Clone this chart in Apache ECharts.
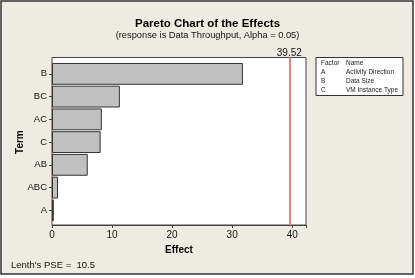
<!DOCTYPE html>
<html><head><meta charset="utf-8">
<script src="https://cdn.jsdelivr.net/npm/echarts@6/dist/echarts.min.js"></script>
<style>html,body{margin:0;padding:0;background:#ffffff;}#c{width:415px;height:278px;}</style>
</head><body><div id="c"></div>
<script>
const terms = ["B", "BC", "AC", "C", "AB", "ABC", "A"];
const effects = [31.8, 11.3, 8.3, 8.1, 5.95, 1.0, 0.3];
const critical = 39.52;
const xTicks = [0, 10, 20, 30, 40];
const factors = ["A", "B", "C"];
const factorNames = ["Activity Direction", "Data Size", "VM Instance Type"];
const pse = 10.5;

const font = '"Liberation Sans", Arial, sans-serif';
const chart = echarts.init(document.getElementById('c'));
const xMax = 42.3;

const legendGraphics = [
  {type:'rect', shape:{x:316, y:57.5, width:87, height:38}, style:{fill:'#ffffff', stroke:'#333', lineWidth:1}},
  {type:'text', x:321, y:60, style:{text:'Factor', font:'6.5px '+font, fill:'#222'}},
  {type:'text', x:346, y:60, style:{text:'Name', font:'6.5px '+font, fill:'#222'}}
];
factors.forEach((f,i)=>{
  legendGraphics.push({type:'text', x:321, y:69+i*8.7, style:{text:f, font:'6.5px '+font, fill:'#222'}});
  legendGraphics.push({type:'text', x:346, y:69+i*8.7, style:{text:factorNames[i], font:'6.5px '+font, fill:'#222'}});
});

chart.setOption({
  backgroundColor:'#ffffff',
  animation:false,
  title:[
    {text:'Pareto Chart of the Effects', left:'center', top:13, textStyle:{fontFamily:font, fontSize:11.5, fontWeight:'bold', color:'#000'}},
    {text:'(response is Data Throughput, Alpha = 0.05)', left:'center', top:26, textStyle:{fontFamily:font, fontSize:9.3, fontWeight:'normal', color:'#111'}}
  ],
  grid:[
    {left:52, right:109, top:57.5, bottom:53, show:true, backgroundColor:'#ffffff', borderColor:'#444', borderWidth:1},
    {left:52, right:109, top:62.5, bottom:56.3}
  ],
  xAxis:[
    {type:'value', gridIndex:0, min:0, max:xMax, interval:10,
     name:'Effect', nameLocation:'middle', nameGap:19,
     nameTextStyle:{fontFamily:font, fontSize:10, fontWeight:'bold', color:'#000'},
     axisLine:{show:true, lineStyle:{color:'#444'}},
     axisTick:{show:true, length:3, lineStyle:{color:'#444'}},
     axisLabel:{fontFamily:font, fontSize:10, color:'#111', margin:5,
       formatter:v=> xTicks.includes(v) ? String(v) : ''},
     splitLine:{show:false}},
    {type:'value', gridIndex:1, min:0, max:xMax, show:false, splitLine:{show:false}}
  ],
  yAxis:[
    {type:'value', gridIndex:0, min:0, max:1, show:false, splitLine:{show:false}},
    {type:'category', gridIndex:1, data:terms, inverse:true,
     name:'Term', nameLocation:'middle', nameGap:27, nameRotate:90, nameMoveOverlap:false,
     nameTextStyle:{fontFamily:font, fontSize:10, fontWeight:'bold', color:'#000'},
     axisLine:{show:false},
     axisTick:{show:true, alignWithLabel:true, length:3, lineStyle:{color:'#444'}},
     axisLabel:{fontFamily:font, fontSize:9.5, color:'#111', margin:5},
     splitLine:{show:false}}
  ],
  series:[
    {type:'bar', xAxisIndex:1, yAxisIndex:1, data:effects, barCategoryGap:'4%',
     itemStyle:{color:'#c0c0c0', borderColor:'#333', borderWidth:1}},
    {type:'line', xAxisIndex:0, yAxisIndex:0, data:[], silent:true,
     markLine:{symbol:'none', silent:true,
       lineStyle:{color:'#f28080', width:2, type:'solid'},
       label:{show:true, position:'end', formatter:String(critical), fontFamily:font, fontSize:10, color:'#111', distance:-1},
       data:[{xAxis:critical}]}}
  ],
  graphic:[
    {type:'rect', z:-10, shape:{x:1, y:1, width:412, height:273}, style:{fill:'#eeebe2', stroke:'#333', lineWidth:1.5}},
    {type:'text', x:11, y:260, style:{text:"Lenth's PSE =  " + pse, font:'9.5px '+font, fill:'#111'}}
  ].concat(legendGraphics)
});
</script></body></html>
